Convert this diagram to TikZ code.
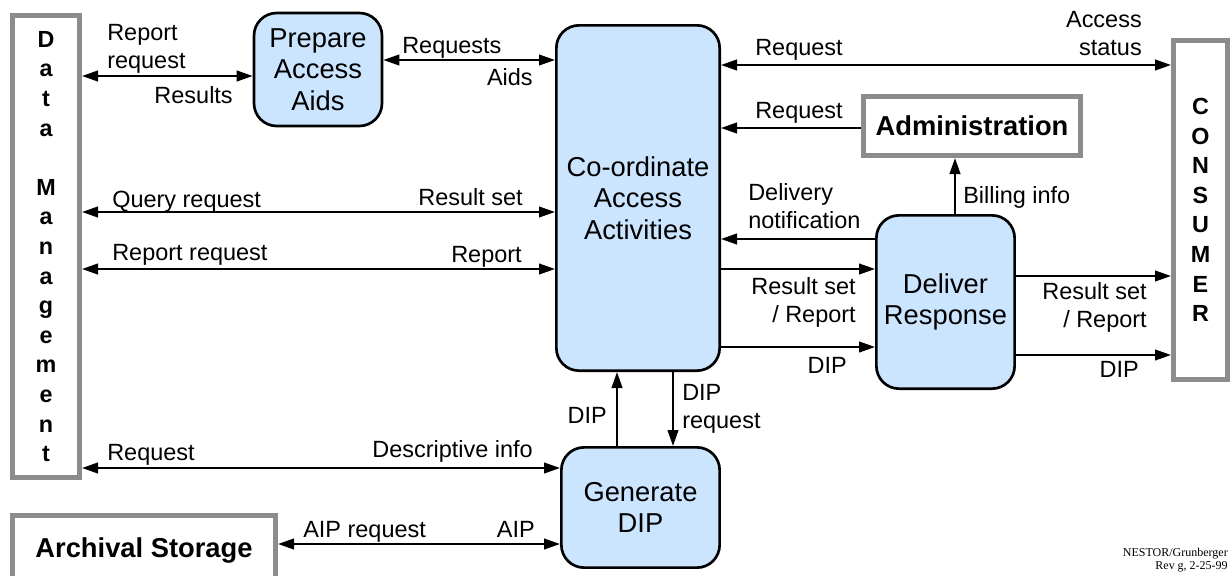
\documentclass[tikz,border=0pt]{standalone}
\usepackage{fontspec}
\setmainfont{Liberation Sans}
\newfontfamily\notefont{Liberation Serif}
\usepackage{tikz}
\usetikzlibrary{arrows.meta,shapes}
\definecolor{procblue}{RGB}{204,229,255}
\definecolor{extgray}{RGB}{140,140,140}
\tikzstyle{process}=[draw=black,line width=2pt,fill=procblue,rounded corners=17pt,align=center,inner sep=0pt,font=\fontsize{20.5}{23.6}\selectfont]
\tikzstyle{entity}=[draw=extgray,line width=3.75pt,fill=white,align=center,inner sep=0pt,font=\fontsize{20.5}{23.6}\selectfont\bfseries]
\tikzstyle{letters}=[font=\fontsize{17.5}{22.2}\selectfont\bfseries]
\tikzstyle{flow}=[draw,line width=1.5pt,>={Triangle[length=12pt,width=8pt]}]
\tikzstyle{lbl}=[inner sep=0pt,font=\fontsize{17.6}{20.6}\selectfont]

\begin{document}
\begin{tikzpicture}[x=0.75pt,y=-0.75pt]
    \useasboundingbox (0,0) rectangle (1231,575);
    % First we draw the outside entities
    \node[entity,letters,minimum width=50.25pt,minimum height=346.5pt] (dm) at (46,246.5) {D\\a\\t\\a\\~\\M\\a\\n\\a\\g\\e\\m\\e\\n\\t};
    \node[entity,letters,minimum width=40.5pt,minimum height=254.25pt] (con) at (1200.5,210) {C\\O\\N\\S\\U\\M\\E\\R};
    \node[entity,minimum width=162.75pt,minimum height=44.25pt] (adm) at (972,126) {Administration};
    \node[entity,minimum width=197.25pt,minimum height=51.75pt] (arc) at (144,550) {Archival Storage};
    % Then the access functions
    \node[process,minimum width=96pt,minimum height=84.75pt] (paa) at (318,69.5) {Prepare\\Access\\Aids};
    \node[process,minimum width=122.5pt,minimum height=259pt] (caa) at (638,198) {Co-ordinate\\Access\\Activities};
    \node[process,minimum width=103.7pt,minimum height=130pt] (dr) at (945.5,302) {Deliver\\Response};
    \node[process,minimum width=118.7pt,minimum height=90.2pt] (gen) at (640.5,507.5) {Generate\\DIP};
    % Connect them with flows
    \foreach \source/\dest/\y in {dm/paa/76, paa/caa/60, dm/caa/212, dm/caa/269, dm/gen/468, arc/gen/544, caa/con/65}
        \path[flow,<->] (\source.east |- 0,\y) -- (\dest.west |- 0,\y);
    \foreach \source/\dest/\y in {caa/dr/269, caa/dr/347, dr/con/276, dr/con/355}
        \path[flow,->] (\source.east |- 0,\y) -- (\dest.west |- 0,\y);
    \foreach \source/\dest/\y in {adm/caa/128, dr/caa/239}
        \path[flow,->] (\source.west |- 0,\y) -- (\dest.east |- 0,\y);
    \foreach \source/\dest/\x in {dr/adm/955, gen/caa/617}
        \path[flow,->] (\source.north -| \x,0) -- (\dest.south -| \x,0);
    \path[flow,->] (caa.south -| 673,0) -- (gen.north -| 673,0);
    % Flow labels (pos is the baseline of the last line)
    \foreach \pos/\txt in {{(107,68)/{Report\\request}}, {(402,53)/Requests}, {(755,55)/Request}, {(755,118)/Request},
        {(112,207)/Query request}, {(112,260)/Report request}, {(748,228)/{Delivery\\notification}},
        {(963,203)/Billing info}, {(682,428)/{DIP\\request}}, {(107,460)/Request}, {(303,537)/AIP request}}
        \node[lbl,anchor=base west,align=left] at \pos {\txt};
    \foreach \pos/\txt in {{(233,103)/Results}, {(533,85)/Aids}, {(1142,55)/{Access\\status}}, {(523,205)/Result set},
        {(522,262)/Report}, {(856,322)/{Result set\\/ Report}}, {(847,373)/DIP}, {(1147,327)/{Result set\\/ Report}},
        {(1139,377)/DIP}, {(607,423)/DIP}, {(533,457)/Descriptive info}, {(535,537)/AIP}}
        \node[lbl,anchor=base east,align=right] at \pos {\txt};
    \node[anchor=base east,align=right,inner sep=0pt,font=\notefont\fontsize{9}{9.75}\selectfont] (note) at (1228,569) {NESTOR/Grunberger\\Rev g, 2-25-99};
\end{tikzpicture}
\end{document}
